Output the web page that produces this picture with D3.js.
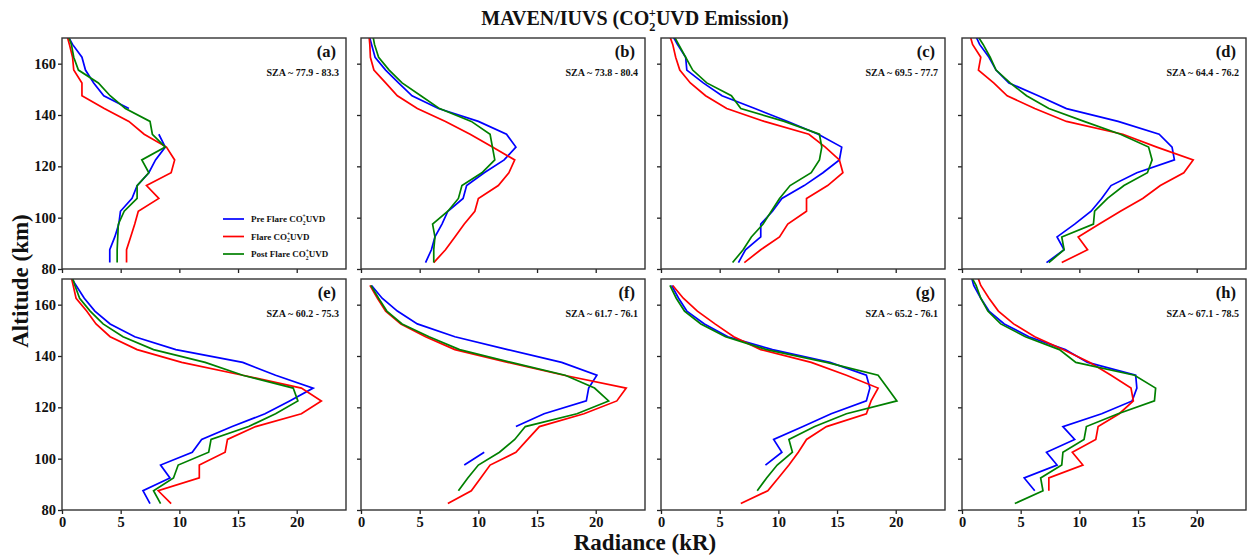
<!DOCTYPE html>
<html>
<head>
<meta charset="utf-8">
<script src="https://cdn.jsdelivr.net/npm/d3@7"></script>
<style>
  body { margin: 0; background: #fff; }
  text { font-family: "Liberation Serif", "Times New Roman", serif; font-weight: bold; fill: #111; }
</style>
</head>
<body>
<svg id="chart" width="1248" height="558"></svg>
<script>
// Altitude grid of the limb profiles (km)
const altitudes = [82.5, 87.5, 92.5, 97.5, 102.5, 107.5, 112.5, 117.5, 122.5, 127.5,
                   132.5, 137.5, 142.5, 147.5, 152.5, 157.5, 162.5, 167.5, 172.5];

const panelLabels = ["(a)", "(b)", "(c)", "(d)", "(e)", "(f)", "(g)", "(h)"];
const szaRanges = ["SZA ~ 77.9 - 83.3", "SZA ~ 73.8 - 80.4", "SZA ~ 69.5 - 77.7", "SZA ~ 64.4 - 76.2",
                   "SZA ~ 60.2 - 75.3", "SZA ~ 61.7 - 76.1", "SZA ~ 65.2 - 76.1", "SZA ~ 67.1 - 78.5"];

// Radiance (kR) per panel, one value per altitude (null = no data)
const preFlare = [
  [4.07,4.07,4.5,4.84,4.98,5.97,6.4,7.4,7.97,8.8,8.25,null,5.7,3.56,2.7,2.0,1.7,0.9,0.3],
  [5.5,6.0,6.3,6.9,7.4,8.7,9.0,10.5,12.2,13.2,12.4,10.0,6.6,4.35,3.2,2.1,1.2,0.9,0.6],
  [6.6,7.2,8.5,8.5,9.5,10.3,12.2,13.8,15.2,15.4,13.4,10.8,8.0,5.2,3.6,2.2,2.1,1.4,0.8],
  [7.2,8.7,8.1,9.6,11.0,11.9,12.7,14.9,18.1,17.9,16.8,13.3,8.9,6.5,4.0,2.9,2.3,1.5,1.0],
  [7.5,6.9,9.2,8.4,11.1,11.9,14.5,17.3,19.4,21.4,18.2,15.4,9.7,6.2,4.1,2.8,1.9,1.2,0.5],
  [null,null,null,8.8,10.5,null,13.2,15.6,19.2,19.4,20.1,17.1,12.5,8.0,4.8,3.1,1.8,0.9,null],
  [null,null,null,8.9,10.3,9.6,12.1,14.5,17.5,17.8,17.5,14.4,9.5,5.7,3.7,2.2,1.5,0.9,null],
  [null,6.2,5.3,8.1,7.2,9.6,8.6,11.9,14.5,14.9,14.8,10.7,8.8,5.7,3.6,2.3,1.6,1.0,0.7]
];
const flare = [
  [5.5,5.5,5.85,6.2,6.5,8.25,7.2,9.3,9.6,8.9,7.0,5.7,3.6,1.7,1.7,1.0,0.9,0.63,0.33],
  [6.2,7.2,8.0,8.8,9.7,10.0,11.7,12.6,13.1,11.2,9.3,7.2,4.8,3.1,2.1,1.1,0.8,0.75,0.65],
  [7.1,8.5,10.1,10.8,12.4,12.4,14.2,15.5,15.2,14.0,12.6,8.8,5.6,3.8,2.5,1.6,1.25,1.0,0.6],
  [8.5,10.7,9.9,11.7,13.5,15.4,16.9,18.9,19.7,16.6,13.7,8.9,6.2,3.85,2.7,1.4,1.6,0.9,0.6],
  [9.3,8.2,11.7,11.7,13.9,14.1,16.5,20.4,22.1,20.4,15.4,10.2,6.4,4.1,2.9,2.1,1.2,0.95,0.7],
  [7.4,9.4,10.2,11.0,13.2,14.2,15.2,19.0,21.8,22.6,17.3,12.5,8.0,5.5,3.4,2.1,1.4,0.76,null],
  [6.8,9.1,10.0,10.9,11.7,12.4,14.1,17.5,17.9,18.5,15.8,12.8,8.5,6.2,4.6,3.1,1.9,1.0,null],
  [null,7.4,7.4,10.3,9.4,11.4,11.6,13.4,14.6,14.4,12.7,10.9,8.6,6.2,4.4,3.1,2.3,1.6,1.2]
];
const postFlare = [
  [4.7,4.7,4.75,4.8,5.3,6.4,6.4,7.4,6.8,8.8,7.7,7.5,5.4,4.1,3.1,1.4,1.0,0.8,0.4],
  [6.2,6.2,6.3,6.1,7.4,8.3,8.6,10.3,11.4,11.2,11.0,9.4,6.7,5.1,3.5,2.4,1.5,1.15,0.95],
  [6.1,7.0,7.7,8.7,9.4,10.1,11.0,12.8,13.5,13.7,13.5,10.5,6.8,6.0,3.9,2.7,2.1,1.5,0.9],
  [7.4,8.7,8.5,11.2,11.3,12.4,13.8,15.8,16.2,15.9,13.5,10.4,7.4,5.5,4.1,2.9,2.4,1.8,1.1],
  [8.4,7.8,9.5,9.9,12.5,12.7,15.9,18.2,20.1,19.7,15.4,12.2,7.8,5.2,3.5,2.4,1.5,1.1,0.75],
  [null,8.3,9.1,10.0,11.8,13.1,14.0,18.4,21.1,19.9,17.4,12.8,8.4,5.8,3.5,2.2,1.5,0.84,null],
  [null,8.2,9.0,9.9,11.2,10.9,13.1,15.8,20.1,19.3,18.5,14.1,9.0,5.5,3.4,2.0,1.3,0.76,null],
  [4.5,6.9,6.7,8.5,8.6,10.4,10.6,13.3,16.4,16.5,14.7,9.7,8.3,5.4,3.3,2.2,1.6,1.2,0.6]
];

const seriesNames = ["Pre Flare ", "Flare ", "Post Flare "];
const seriesColors = ["#0000ff", "#ff0000", "#008000"];
const xTicks = [0, 5, 10, 15, 20];
const yTicks = [80, 100, 120, 140, 160];

const svg = d3.select("#chart");
const colLefts = [62, 361, 661, 962];
const rowTops = [38, 279];
const pw = 284, ph = 231;

const x = d3.scaleLinear().domain([0, 24.2]).range([0, pw]);
const y = d3.scaleLinear().domain([80, 170]).range([ph, 0]);

// Writes "<prefix>CO2+<suffix>" with stacked sub/superscript
function chemText(sel, prefix, suffix, size) {
  sel.append("tspan").text(prefix + "CO");
  sel.append("tspan").text("2").attr("font-size", size * 0.62).attr("dy", size * 0.3);
  sel.append("tspan").text("+").attr("font-size", size * 0.62).attr("dx", -size * 0.33).attr("dy", -size * 0.72);
  sel.append("tspan").text(suffix).attr("dy", size * 0.42);
}

const defs = svg.append("defs");

for (let p = 0; p < 8; p++) {
  const row = Math.floor(p / 4), col = p % 4;
  const g = svg.append("g").attr("transform", `translate(${colLefts[col]},${rowTops[row]})`);

  defs.append("clipPath").attr("id", "clip" + p)
    .append("rect").attr("width", pw).attr("height", ph);

  // axes with outward ticks
  const yAxis = d3.axisLeft(y).tickValues(yTicks).tickSize(4).tickPadding(2);
  if (col > 0) yAxis.tickFormat("");
  const xAxis = d3.axisBottom(x).tickValues(xTicks).tickSize(4).tickPadding(3);
  if (row === 0) xAxis.tickFormat("");

  const ya = g.append("g").call(yAxis);
  const xa = g.append("g").attr("transform", `translate(0,${ph})`).call(xAxis);
  [ya, xa].forEach(a => {
    a.select(".domain").remove();
    a.selectAll("line").attr("stroke", "#222").attr("stroke-width", 1.3);
    a.selectAll("text").attr("font-size", 14.5).attr("font-family", "Liberation Serif, serif")
      .attr("font-weight", "bold").attr("fill", "#111");
  });

  // profiles
  const line = d3.line()
    .defined(d => d.v !== null)
    .x(d => x(d.v))
    .y(d => y(d.alt));
  const plots = g.append("g").attr("clip-path", `url(#clip${p})`);
  [preFlare[p], flare[p], postFlare[p]].forEach((vals, s) => {
    const pts = altitudes.map((alt, i) => ({ alt, v: vals[i] }));
    plots.append("path").datum(pts)
      .attr("d", line)
      .attr("fill", "none")
      .attr("stroke", seriesColors[s])
      .attr("stroke-width", 1.7)
      .attr("stroke-linejoin", "miter");
  });

  // frame
  g.append("rect").attr("width", pw).attr("height", ph)
    .attr("fill", "none").attr("stroke", "#333").attr("stroke-width", 1.4);

  g.append("text").attr("x", pw - 10).attr("y", 19).attr("text-anchor", "end")
    .attr("font-size", 16.5).text(panelLabels[p]);
  g.append("text").attr("x", pw - 7).attr("y", 38).attr("text-anchor", "end")
    .attr("font-size", 10).text(szaRanges[p]);

  // legend in the first panel
  if (p === 0) {
    const lg = g.append("g");
    seriesNames.forEach((name, s) => {
      const ly = 181 + s * 17.5;
      lg.append("line").attr("x1", 161).attr("x2", 182).attr("y1", ly).attr("y2", ly)
        .attr("stroke", seriesColors[s]).attr("stroke-width", 1.7);
      const t = lg.append("text").attr("x", 189).attr("y", ly + 3).attr("font-size", 9);
      chemText(t, name, "UVD", 9);
    });
  }
}

// figure title and axis titles
const title = svg.append("text").attr("x", 635).attr("y", 25).attr("text-anchor", "middle")
  .attr("font-size", 20);
chemText(title, "MAVEN/IUVS (", "UVD Emission)", 20);

svg.append("text").attr("transform", "translate(28,281) rotate(-90)")
  .attr("text-anchor", "middle").attr("font-size", 23).text("Altitude (km)");
svg.append("text").attr("x", 645).attr("y", 550).attr("text-anchor", "middle")
  .attr("font-size", 23).text("Radiance (kR)");
</script>
</body>
</html>
